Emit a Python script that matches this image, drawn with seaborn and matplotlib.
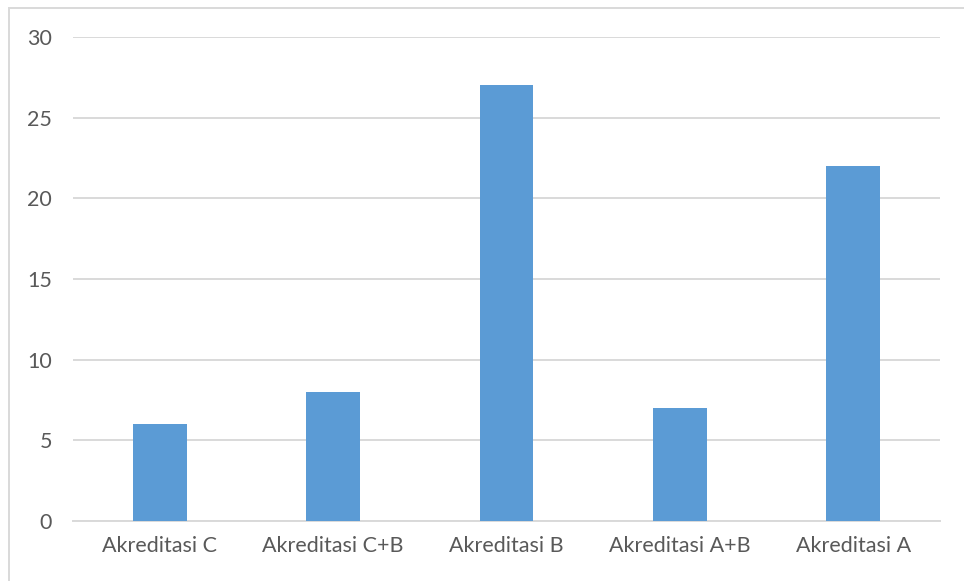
import matplotlib
matplotlib.use("Agg")
import matplotlib.pyplot as plt
from matplotlib.patches import Rectangle
import seaborn as sns
import pandas as pd

categories = ["Akreditasi C", "Akreditasi C+B", "Akreditasi B", "Akreditasi A+B", "Akreditasi A"]
values = [6, 8, 27, 7, 22]
y_ticks = [0, 5, 10, 15, 20, 25, 30]

sns.set_theme(style="white")
plt.rcParams["font.family"] = ["Lato", "DejaVu Sans"]

df = pd.DataFrame({"kategori": categories, "jumlah": values})

fig = plt.figure(figsize=(9.64, 5.81), dpi=100)
ax = fig.add_axes([73 / 964, 1 - 521 / 581, (940 - 73) / 964, (521 - 37) / 581])

sns.barplot(data=df, x="kategori", y="jumlah", color="#5B9BD5", width=0.31,
            saturation=1, linewidth=0, ax=ax, zorder=3)

ax.set_ylim(0, 30)
ax.set_yticks(y_ticks)
ax.set_xlim(-0.5, len(categories) - 0.5)
ax.set_xlabel("")
ax.set_ylabel("")
ax.yaxis.grid(True, color="#D9D9D9", linewidth=1.4, zorder=0)
ax.xaxis.grid(False)
for side in ["top", "right", "left"]:
    ax.spines[side].set_visible(False)
ax.spines["bottom"].set_color("#D9D9D9")
ax.spines["bottom"].set_linewidth(1.4)
ax.tick_params(axis="both", length=0, colors="#595959", labelsize=15.5)
ax.tick_params(axis="y", pad=15)
ax.tick_params(axis="x", pad=11)

# light frame around the chart area
fig.patches.append(Rectangle((9 / 964, -0.1), 1.2, 1.1 - 7.5 / 581,
                             transform=fig.transFigure, fill=False,
                             edgecolor="#D9D9D9", linewidth=1.4, zorder=0))

fig.savefig("out.png", dpi=100, facecolor="white")
